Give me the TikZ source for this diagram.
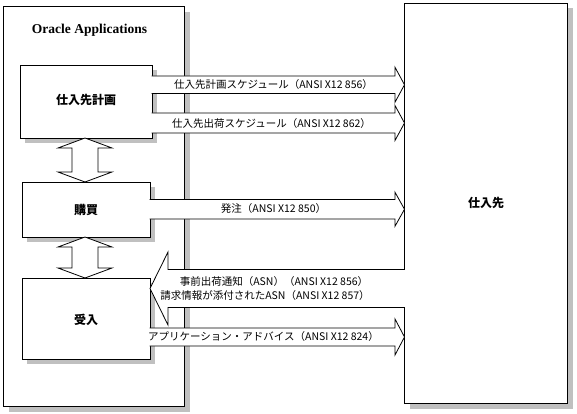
\documentclass[tikz,border=0pt]{standalone}
\usepackage{fontspec}
\setmainfont{Liberation Serif}
\newfontfamily\jp{Noto Sans CJK JP}
\usetikzlibrary{shadows}
\definecolor{shadowgray}{RGB}{192,192,192}
\tikzset{
  panel/.style={draw=black, fill=white, line width=0.9pt, anchor=north west,
    inner sep=0pt, outer sep=0pt,
    drop shadow={opacity=1, fill=shadowgray, shadow xshift=#1, shadow yshift=-#1}},
  panel/.default=5pt,
  blockline/.style={draw=black, line width=0.8pt, line join=miter},
  boxlabel/.style={font=\jp\bfseries\fontsize{12}{14}\selectfont, inner sep=0pt},
  msg/.style={font=\jp\fontsize{10.5}{12}\selectfont, inner sep=0pt},
  titletext/.style={font=\bfseries\fontsize{13.5}{16}\selectfont, inner sep=0pt}
}
\newcommand\rblock[6]{%
  \pgfmathsetmacro\bmid{(#2+#3)/2}%
  \pgfmathsetmacro\bht{\bmid-#4}%
  \pgfmathsetmacro\bhb{\bmid+#4}%
  \fill[white] (#1 |- 0,#2) -- (#5 |- 0,#2) -- (#5 |- 0,\bht) -- (#6 |- 0,\bmid)
    -- (#5 |- 0,\bhb) -- (#5 |- 0,#3) -- (#1 |- 0,#3) -- cycle;
  \draw[blockline] (#1 |- 0,#2) -- (#5 |- 0,#2) -- (#5 |- 0,\bht) -- (#6 |- 0,\bmid)
    -- (#5 |- 0,\bhb) -- (#5 |- 0,#3) -- (#1 |- 0,#3);
}
\newcommand\dblarrow[2]{%
  \filldraw[blockline, fill=white] (#1) -- ++(27,10) -- ++(-14,0) -- ++(0,#2)
    -- ++(14,0) -- ++(-27,10) -- ++(-27,-10) -- ++(14,0) -- ++(0,-#2)
    -- ++(-14,-0) -- cycle;
}
\begin{document}
\begin{tikzpicture}[x=1pt,y=-1pt]
\useasboundingbox (0,0) rectangle (577,414);
% main boxes
\node[panel=6pt, minimum width=181pt, minimum height=400pt] (oracle) at (3,6) {};
\node[panel=5.5pt, minimum width=162.5pt, minimum height=400pt] (sup) at (404.5,3) {};
\node[panel, minimum width=132pt, minimum height=73pt] (plan) at (20,65) {};
\node[panel, minimum width=128pt, minimum height=55pt] (purch) at (22,182) {};
\node[panel, minimum width=128pt, minimum height=81pt] (recv) at (22,278) {};
% labels
\node[titletext] (ttl) at (89.5,30) {Oracle Applications};
\node[boxlabel] (lplan) at (86,100) {仕入先計画};
\node[boxlabel] (lpurch) at (86,210) {購買};
\node[boxlabel] (lrecv) at (86,320) {受入};
\node[boxlabel] (lsup) at (486,203) {仕入先};
% helper coordinates
\coordinate (ps) at ([xshift=-0.45pt]plan.east);
\coordinate (us) at ([xshift=-0.45pt]purch.east);
\coordinate (rs) at ([xshift=-0.45pt]recv.east);
\coordinate (hb) at ([xshift=-9.5pt]sup.west);
\coordinate (tip) at (sup.west);
% vertical double arrows
\coordinate (d1) at ([xshift=-1pt]plan.south);
\coordinate (d2) at ([xshift=-1pt]purch.south);
\dblarrow{d1}{24}
\dblarrow{d2}{21}
% right-pointing block arrows
\rblock{ps}{76}{93.5}{17.5}{hb}{tip}
\rblock{ps}{113}{133}{17.5}{hb}{tip}
\rblock{us}{199.5}{219}{17}{hb}{tip}
\rblock{rs}{328}{346}{18}{hb}{tip}
% left-pointing block arrow (ASN)
\coordinate (asnr) at ([xshift=0.45pt]sup.west);
\coordinate (asnb) at ([xshift=18pt]recv.east);
\coordinate (asnt) at (recv.east);
\fill[white] (asnr |- 0,269.5) -- (asnb |- 0,269.5) -- (asnb |- 0,252) -- (asnt |- 0,288.5)
  -- (asnb |- 0,325) -- (asnb |- 0,307.5) -- (asnr |- 0,307.5) -- cycle;
\draw[blockline] (asnr |- 0,269.5) -- (asnb |- 0,269.5) -- (asnb |- 0,252) -- (asnt |- 0,288.5)
  -- (asnb |- 0,325) -- (asnb |- 0,307.5) -- (asnr |- 0,307.5);
% message labels
\node[msg] (m1) at (273.5,85) {仕入先計画スケジュール（ANSI X12 856）};
\node[msg] (m2) at (271.5,123.5) {仕入先出荷スケジュール（ANSI X12 862）};
\node[msg] (m3) at (273.5,209) {発注（ANSI X12 850）};
\node[msg] (m4) at (274,282) {事前出荷通知（ASN）（ANSI X12 856）};
\node[msg] (m5) at (265,296) {請求情報が添付されたASN（ANSI X12 857）};
\node[msg] (m6) at (263.5,337) {アプリケーション・アドバイス（ANSI X12 824）};
\end{tikzpicture}
\end{document}
